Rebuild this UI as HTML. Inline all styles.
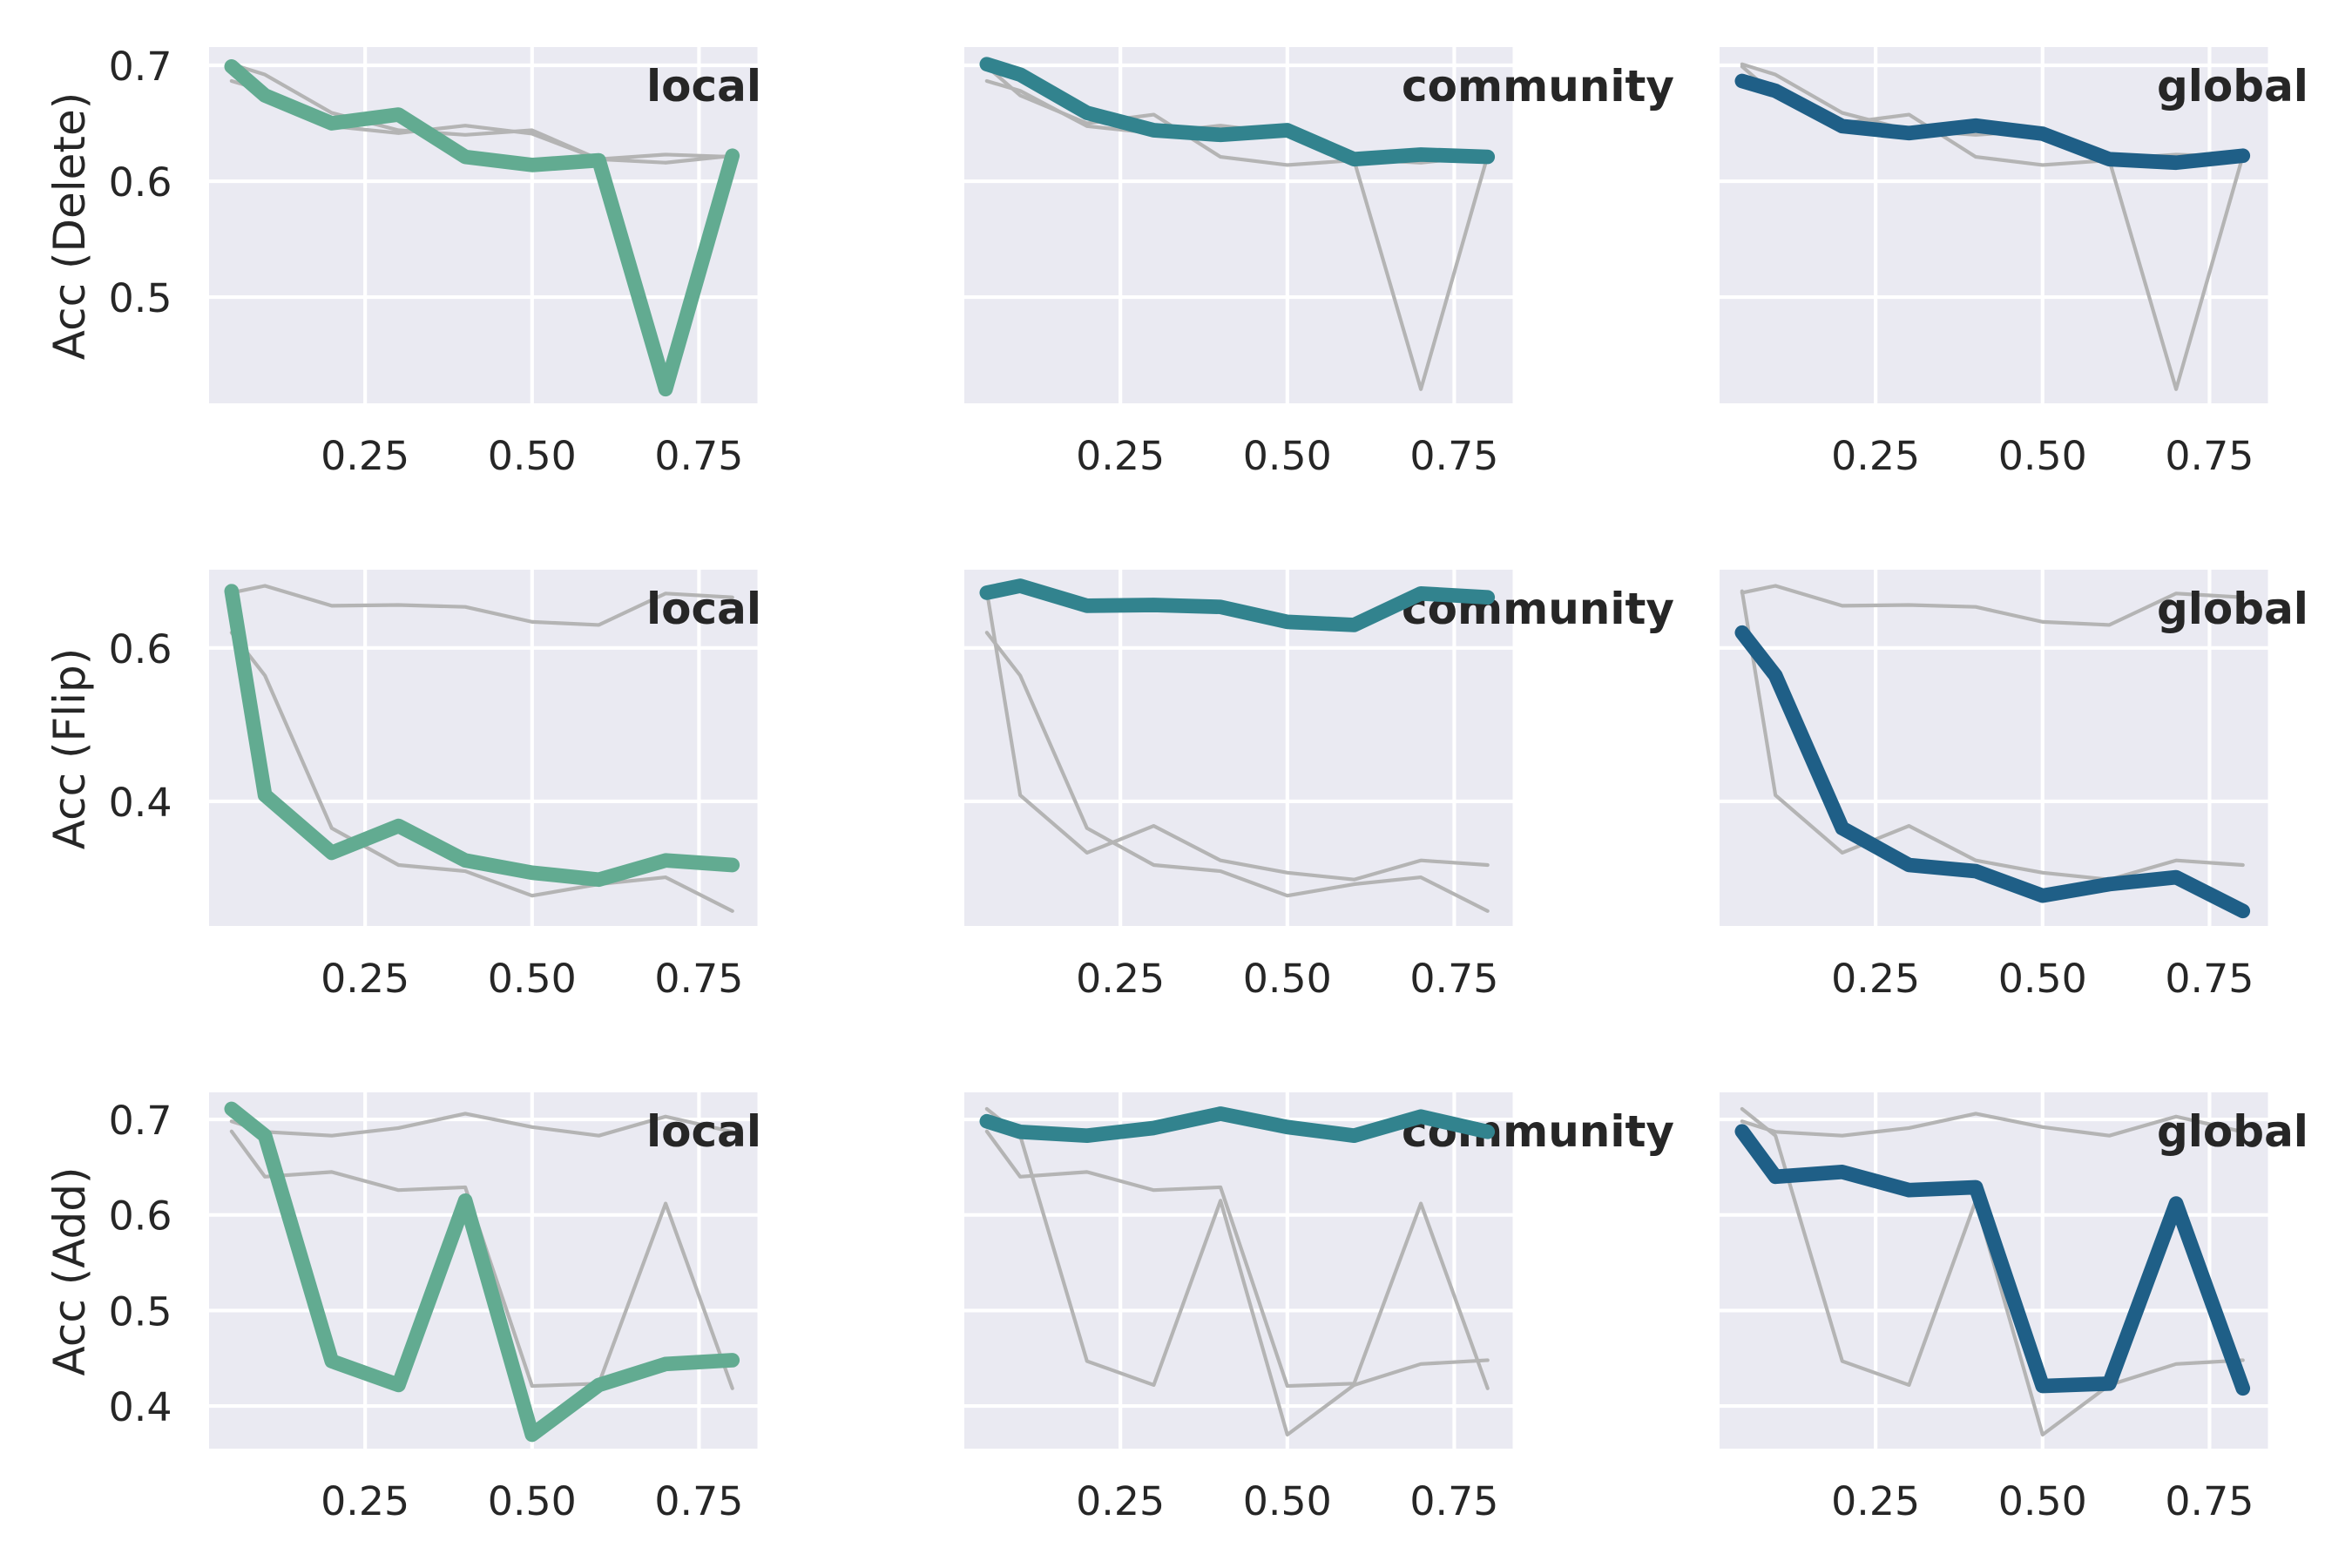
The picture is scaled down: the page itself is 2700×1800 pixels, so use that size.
<!DOCTYPE html>
<html lang="en">
<head>
<meta charset="utf-8">
<title>Accuracy small multiples</title>
<style>
html,body{margin:0;padding:0;background:#fff;}
svg{display:block;font-family:"DejaVu Sans","Liberation Sans",sans-serif;}
</style>
</head>
<body>
<svg id="chart" xmlns="http://www.w3.org/2000/svg" width="2700" height="1800" viewBox="0 0 2700 1800"></svg>
<script>
const xValues = [0.05, 0.1, 0.2, 0.3, 0.4, 0.5, 0.6, 0.7, 0.8];
const xTicks = [0.25, 0.5, 0.75];
const xTickLabels = ['0.25', '0.50', '0.75'];
const methods = ['local', 'community', 'global'];
const rowNames = ['delete', 'flip', 'add'];
const rowLabels = ['Acc (Delete)', 'Acc (Flip)', 'Acc (Add)'];
const yTicksDelete = [0.7, 0.6, 0.5];
const yTicksFlip = [0.6, 0.4];
const yTicksAdd = [0.7, 0.6, 0.5, 0.4];
const yTickLabelsDelete = ['0.7', '0.6', '0.5'];
const yTickLabelsFlip = ['0.6', '0.4'];
const yTickLabelsAdd = ['0.7', '0.6', '0.5', '0.4'];
const deleteLocal = [0.699, 0.674, 0.650, 0.6575, 0.621, 0.614, 0.618, 0.4205, 0.622];
const deleteCommunity = [0.701, 0.692, 0.659, 0.644, 0.640, 0.644, 0.619, 0.623, 0.621];
const deleteGlobal = [0.6865, 0.678, 0.6475, 0.6415, 0.648, 0.641, 0.619, 0.616, 0.622];
const flipLocal = [0.674, 0.408, 0.333, 0.368, 0.323, 0.307, 0.298, 0.323, 0.317];
const flipCommunity = [0.672, 0.681, 0.655, 0.656, 0.6535, 0.634, 0.630, 0.671, 0.666];
const flipGlobal = [0.620, 0.564, 0.365, 0.317, 0.309, 0.277, 0.292, 0.301, 0.257];
const addLocal = [0.711, 0.683, 0.447, 0.422, 0.615, 0.370, 0.422, 0.444, 0.448];
const addCommunity = [0.698, 0.687, 0.683, 0.691, 0.706, 0.692, 0.683, 0.703, 0.687];
const addGlobal = [0.6875, 0.640, 0.645, 0.626, 0.629, 0.421, 0.4235, 0.612, 0.4185];

const seriesByRow = [
  [deleteLocal, deleteCommunity, deleteGlobal],
  [flipLocal, flipCommunity, flipGlobal],
  [addLocal, addCommunity, addGlobal]
];
const ticksByRow = [yTicksDelete, yTicksFlip, yTicksAdd];
const tickLabelsByRow = [yTickLabelsDelete, yTickLabelsFlip, yTickLabelsAdd];

/* axis configuration */
const colLeft = [240, 1107, 1974];
const rowTop = [54, 654, 1254];
const panelW = 629.5;
const panelH = 409;
const xDomain = [0.0163, 0.8375];
const yDomains = [[0.4083, 0.7158], [0.2375, 0.702], [0.3554, 0.7283]];
const colors = ['#62ab91', '#32838e', '#1f5f87'];
const INK = '#262626';

const NS = 'http://www.w3.org/2000/svg';
const svg = document.getElementById('chart');

function make(tag, attrs, parent) {
  const el = document.createElementNS(NS, tag);
  for (const k in attrs) el.setAttribute(k, attrs[k]);
  parent.appendChild(el);
  return el;
}
function xScale(v, c) {
  return colLeft[c] + (v - xDomain[0]) / (xDomain[1] - xDomain[0]) * panelW;
}
function yScale(v, r) {
  const d = yDomains[r];
  return rowTop[r] + (d[1] - v) / (d[1] - d[0]) * panelH;
}
function linePoints(values, c, r) {
  return values.map((v, i) => xScale(xValues[i], c).toFixed(2) + ',' + yScale(v, r).toFixed(2)).join(' ');
}

rowNames.forEach((rowName, r) => {
  const label = make('text', {
    transform: 'translate(97 ' + (rowTop[r] + panelH / 2 + 1) + ') rotate(-90)',
    'text-anchor': 'middle', 'font-size': 50, fill: INK
  }, svg);
  
  
  label.textContent = rowLabels[r];

  methods.forEach((method, c) => {
    const panel = make('g', {}, svg);
    
    

    const bg = make('rect', { x: colLeft[c], y: rowTop[r], width: panelW, height: panelH, fill: '#eaeaf2' }, panel);
    
    

    ticksByRow[r].forEach((t, i) => {
      const y = yScale(t, r);
      const grid = make('line', { x1: colLeft[c], x2: colLeft[c] + panelW, y1: y, y2: y, stroke: '#fff', 'stroke-width': 4.17 }, panel);
      
      
      if (c === 0) {
        const tick = make('text', { x: colLeft[0] - 42.5, y: y + 17, 'text-anchor': 'end', 'font-size': 45.8, fill: INK }, panel);
        
        
        tick.textContent = tickLabelsByRow[r][i];
      }
    });

    xTicks.forEach((t, i) => {
      const x = xScale(t, c);
      const grid = make('line', { x1: x, x2: x, y1: rowTop[r], y2: rowTop[r] + panelH, stroke: '#fff', 'stroke-width': 4.17 }, panel);
      
      
      const tick = make('text', { x: x, y: rowTop[r] + panelH + 76, 'text-anchor': 'middle', 'font-size': 45.8, fill: INK }, panel);
      
      
      tick.textContent = xTickLabels[i];
    });

    seriesByRow[r].forEach((values, s) => {
      if (s === c) return;
      const thin = make('polyline', {
        points: linePoints(values, c, r), fill: 'none', stroke: '#b4b4b4',
        'stroke-width': 4.17, 'stroke-linecap': 'round', 'stroke-linejoin': 'round'
      }, panel);
      
      
    });

    const title = make('text', {
      x: colLeft[c] + 502, y: rowTop[r] + 62, 'font-size': 50, 'font-weight': 700, fill: INK
    }, panel);
    
    
    title.textContent = method;

    const thick = make('polyline', {
      points: linePoints(seriesByRow[r][c], c, r), fill: 'none', stroke: colors[c],
      'stroke-width': 16.67, 'stroke-linecap': 'round', 'stroke-linejoin': 'round'
    }, panel);
    
    
  });
});
</script>
</body>
</html>
